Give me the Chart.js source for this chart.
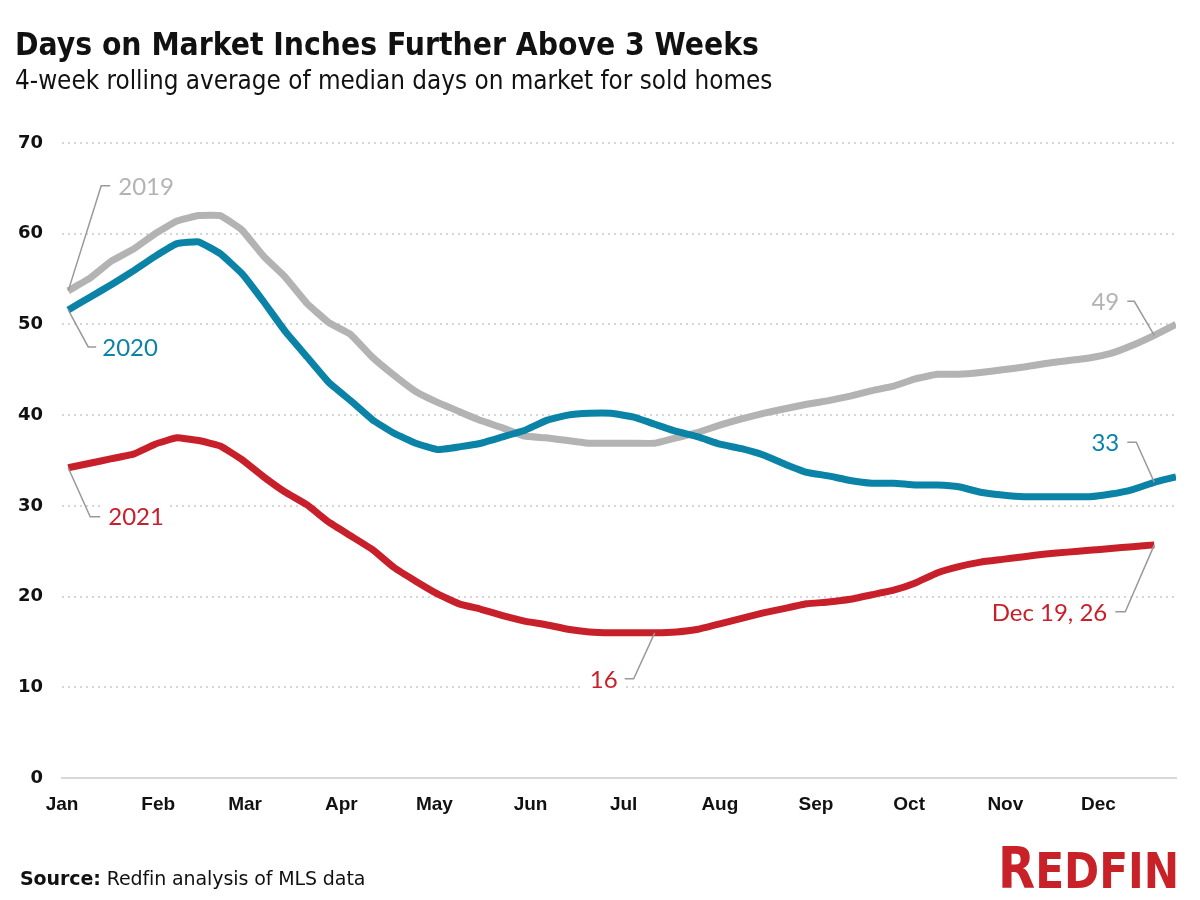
<!DOCTYPE html>
<html>
<head>
<meta charset="utf-8">
<script src="https://cdn.jsdelivr.net/npm/chart.js@4.4.0/dist/chart.umd.min.js"></script>
<style>
  body { margin: 0; background: #fff; }
  #wrap { position: relative; width: 1200px; height: 900px; overflow: hidden; }
  #chart { position: absolute; left: 0; top: 0; }
  .title { position: absolute; left: 15px; top: 26px; line-height: 1; white-space: nowrap;
           font: bold 31.5px "DejaVu Sans Condensed", sans-serif; color: #111; }
  .subtitle { position: absolute; left: 15px; top: 65px; line-height: 1; white-space: nowrap;
              font: 25.8px "DejaVu Sans Condensed", sans-serif; color: #111; }
  .source { position: absolute; left: 20px; top: 867px; line-height: 1; white-space: nowrap;
            font: 19px "DejaVu Sans", sans-serif; color: #111; letter-spacing: -0.1px; }
  .logo { position: absolute; left: 998px; top: 835px; line-height: 1; white-space: nowrap;
          font: bold 50px "DejaVu Sans Condensed", sans-serif; color: #c82127;
          display: inline-block; transform: scaleX(0.94); transform-origin: left top; }
  .logo span { font-size: 57px; }
</style>
</head>
<body>
<div id="wrap">
  <canvas id="chart" width="1200" height="900"></canvas>
  <div class="title">Days on Market Inches Further Above 3 Weeks</div>
  <div class="subtitle">4-week rolling average of median days on market for sold homes</div>
  <div class="source"><b>Source:</b> Redfin analysis of MLS data</div>
  <div class="logo"><span>R</span>EDFIN</div>
</div>
<script>
// =============================
// Data (weekly, first week ends Jan 3)
// =============================

const firstWeekDay = 2;   // day of year of first weekly point
const monthDays = [0, 31, 59, 90, 120, 151, 181, 212, 243, 273, 304, 334];
const monthLabels = ['Jan', 'Feb', 'Mar', 'Apr', 'May', 'Jun', 'Jul', 'Aug', 'Sep', 'Oct', 'Nov', 'Dec'];
const yTicks = [0, 10, 20, 30, 40, 50, 60, 70];

const values2019 = [
    53.7, 55.1, 57.0, 58.3, 60.0, 61.4, 62.0, 62.0, 60.4, 57.5,
    55.2, 52.3, 50.2, 48.9, 46.4, 44.4, 42.6, 41.4, 40.4, 39.4,
    38.6, 37.7, 37.5, 37.2, 36.9, 36.9, 36.9, 36.9, 37.5, 38.1,
    38.9, 39.6, 40.2, 40.7, 41.2, 41.6, 42.1, 42.7, 43.2, 44.0,
    44.5, 44.5, 44.7, 45.0, 45.3, 45.7, 46.0, 46.3, 46.8, 47.7,
    48.8, 50.0
];

const values2020 = [
    51.6, 53.0, 54.4, 55.9, 57.5, 58.9, 59.1, 57.8, 55.6, 52.5,
    49.2, 46.4, 43.6, 41.6, 39.5, 38.0, 36.9, 36.2, 36.5, 36.9,
    37.6, 38.3, 39.4, 40.0, 40.2, 40.2, 39.8, 39.0, 38.2, 37.6,
    36.8, 36.3, 35.6, 34.6, 33.7, 33.3, 32.8, 32.5, 32.5, 32.3,
    32.3, 32.1, 31.5, 31.2, 31.0, 31.0, 31.0, 31.0, 31.3, 31.8,
    32.6, 33.2
];

const values2021 = [
    34.2, 34.7, 35.2, 35.7, 36.8, 37.5, 37.2, 36.6, 35.1, 33.2,
    31.5, 30.1, 28.2, 26.7, 25.2, 23.2, 21.7, 20.3, 19.2, 18.6,
    17.9, 17.3, 16.9, 16.4, 16.1, 16.0, 16.0, 16.0, 16.1, 16.4,
    17.0, 17.6, 18.2, 18.7, 19.2, 19.4, 19.7, 20.2, 20.7, 21.5,
    22.6, 23.3, 23.8, 24.1, 24.4, 24.7, 24.9, 25.1, 25.3, 25.5,
    25.7
];

const GRAY = '#b3b3b3';
const TEAL = '#0b83a6';
const RED = '#c8202a';

function toPoints(values) {
    return values.map((v, i) => ({ x: firstWeekDay + 7 * i, y: v }));
}

// =============================
// Callout labels
// =============================

// ds: dataset index, i: point index, elbow/end/text offsets from the point in px
const callouts = [
    { ds: 2, i: 0, text: '2019', color: GRAY, ex: 33, ey: -105, endX: 42, tx: 50, align: 'left' },
    { ds: 1, i: 0, text: '2020', color: TEAL, ex: 20, ey: 37, endX: 28, tx: 34, align: 'left' },
    { ds: 0, i: 0, text: '2021', color: RED, ex: 22, ey: 49, endX: 32, tx: 40, align: 'left' },
    { ds: 0, i: 27, text: '16', color: RED, ex: -21, ey: 46, endX: -30, tx: -37, align: 'right' },
    { ds: 2, i: 50, text: '49', color: GRAY, ex: -20, ey: -34, endX: -27, tx: -35, align: 'right' },
    { ds: 1, i: 50, text: '33', color: TEAL, ex: -18, ey: -40, endX: -27, tx: -35, align: 'right' },
    { ds: 0, i: 50, text: 'Dec 19, 26', color: RED, ex: -29, ey: 67, endX: -39, tx: -47, align: 'right' }
];

const calloutPlugin = {
    id: 'callouts',
    afterDatasetsDraw(chart) {
        const ctx = chart.ctx;
        const xs = chart.scales.x;
        const ys = chart.scales.y;
        ctx.save();
        ctx.font = '24px Lato, "Open Sans", sans-serif';
        ctx.textBaseline = 'middle';
        callouts.forEach(c => {
            const pt = chart.data.datasets[c.ds].data[c.i];
            const px = xs.getPixelForValue(pt.x);
            const py = ys.getPixelForValue(pt.y);
            const ty = py + c.ey;

            // white box behind text (cuts the gridlines)
            const w = ctx.measureText(c.text).width;
            const bx = c.align === 'left' ? px + c.tx - 6 : px + c.tx - w - 6;
            ctx.fillStyle = '#fff';
            ctx.fillRect(bx, ty - 13, w + 12, 26);

            ctx.strokeStyle = '#999';
            ctx.lineWidth = 1.5;
            ctx.beginPath();
            ctx.moveTo(px, py);
            ctx.lineTo(px + c.ex, ty);
            ctx.lineTo(px + c.endX, ty);
            ctx.stroke();

            ctx.fillStyle = c.color;
            ctx.textAlign = c.align;
            ctx.fillText(c.text, px + c.tx, ty + 1);
        });
        ctx.restore();
    }
};

// =============================
// Chart
// =============================

const monthFont = { family: '"Liberation Sans", Arial, sans-serif', size: 19, weight: 'bold' };
const valueFont = { family: '"DejaVu Sans", sans-serif', size: 18, weight: 'bold' };

function lineDataset(label, values, color) {
    return {
        label: label,
        data: toPoints(values),
        borderColor: color,
        borderWidth: 7,
        pointRadius: 0,
        tension: 0.1,
        borderJoinStyle: 'round',
        fill: false
    };
}

new Chart(document.getElementById('chart'), {
    type: 'line',
    data: {
        datasets: [
            lineDataset('2021', values2021, RED),
            lineDataset('2020', values2020, TEAL),
            lineDataset('2019', values2019, GRAY)
        ]
    },
    options: {
        responsive: false,
        animation: false,
        layout: {
            padding: { top: 143, right: 24, bottom: 82, left: 0 }
        },
        plugins: {
            legend: { display: false },
            tooltip: { enabled: false }
        },
        scales: {
            x: {
                type: 'linear',
                min: 0,
                max: firstWeekDay + 7 * (values2019.length - 1),
                afterBuildTicks: (scale) => {
                    scale.ticks = monthDays.map(d => ({ value: d }));
                },
                afterFit: (scale) => { scale.height = 40; },
                ticks: {
                    autoSkip: false,
                    maxRotation: 0,
                    padding: 15,
                    color: '#111',
                    font: monthFont,
                    callback: (v) => monthLabels[monthDays.indexOf(v)]
                },
                grid: { display: false, drawTicks: false },
                border: { display: true, color: '#d9d9d9', width: 2 }
            },
            y: {
                min: 0,
                max: 70,
                afterBuildTicks: (scale) => {
                    scale.ticks = yTicks.map(v => ({ value: v }));
                },
                afterFit: (scale) => { scale.width = 62; },
                ticks: {
                    padding: 19,
                    color: '#111',
                    font: valueFont
                },
                grid: {
                    drawTicks: false,
                    lineWidth: 2,
                    color: (ctx) => ctx.tick && ctx.tick.value === 0 ? 'rgba(0,0,0,0)' : '#d6d6d6'
                },
                border: { display: false, dash: [2, 4] }
            }
        }
    },
    plugins: [calloutPlugin]
});
</script>
</body>
</html>
